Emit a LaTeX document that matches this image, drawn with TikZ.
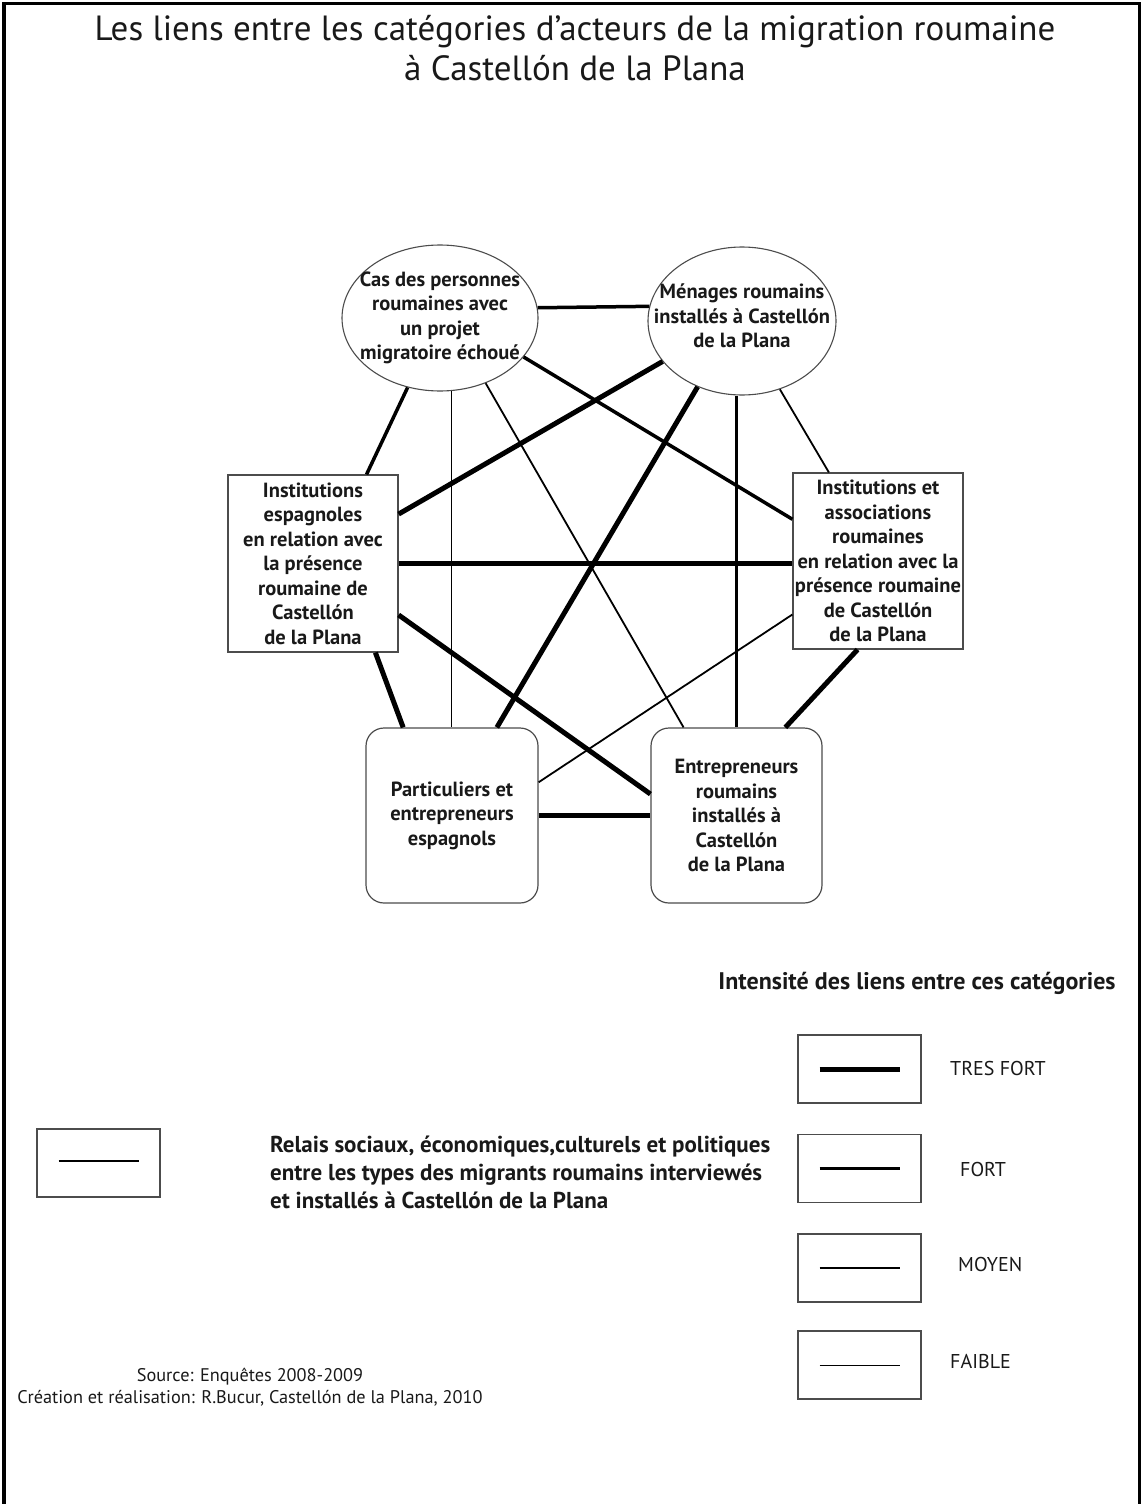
\documentclass[tikz,border=0pt]{standalone}
\usepackage{fontspec}
\setmainfont{PT Sans}
\usetikzlibrary{shapes.geometric}
\tikzset{
  cattxt/.style={font=\bfseries\fontsize{20.5}{24.5}\selectfont, align=center, inner sep=0pt, text=black!90},
  cat/.style={cattxt, draw=black!70, line width=1.2pt},
  ell/.style={ellipse, draw=black!70, line width=1.1pt, inner sep=0pt, minimum width=196pt, minimum height=146pt},
  rbox/.style={cat, rectangle, minimum width=170pt, minimum height=177pt},
  rrbox/.style={cat, rectangle, rounded corners=18pt, minimum width=172pt, minimum height=175pt},
  tresfort/.style={line width=5pt},
  fort/.style={line width=3.5pt},
  moyen/.style={line width=1.8pt},
  faible/.style={line width=0.9pt},
  legbox/.style={draw=black!70, line width=1.4pt, minimum width=123pt, minimum height=68pt, inner sep=0pt},
  leglabel/.style={anchor=west, font=\fontsize{20}{22}\selectfont, text=black!90, inner sep=0pt},
}
\begin{document}
\begin{tikzpicture}[x=1pt,y=-1pt]
\useasboundingbox (0,0) rectangle (1142,1504);
% frame
\draw[line width=4pt] (4,1504) -- (4,3.5);
\draw[line width=3.5pt] (2.2,3.5) -- (1139.5,3.5) -- (1139.5,1504);
% title
\node[align=center, font=\fontsize{35}{40}\selectfont, text=black!90, inner sep=0pt] (title) at (575,48)
  {Les liens entre les catégories d'acteurs de la migration roumaine\\à Castellón de la Plana};
% categories
\node[ell, label={[cattxt]center:{Cas des personnes\\roumaines avec\\un projet\\migratoire échoué}}] (A) at (440,318) {};
\node[ell, minimum width=188pt, minimum height=148pt, label={[cattxt, yshift=5pt]center:{Ménages roumains\\installés à Castellón\\de la Plana}}] (B) at (742,321) {};
\node[rbox] (L) at (313,563.5) {Institutions\\espagnoles\\en relation avec\\la présence\\roumaine de\\Castellón\\de la Plana};
\node[rbox, minimum height=176pt] (R) at (878,561) {Institutions et\\associations\\roumaines\\en relation avec la\\présence roumaine\\de Castellón\\de la Plana};
\node[rrbox] (P) at (452,815.5) {Particuliers et\\entrepreneurs\\espagnols};
\node[rrbox, minimum width=171pt] (E) at (736.5,815.5) {Entrepreneurs\\roumains\\installés à\\Castellón\\de la Plana};
% links
\draw[fort] (A.6) -- (B.171);
\draw[fort] (A.245) -- (L.59);
\draw[faible] (A.279) -- (A.279 |- P.north);
\draw[moyen] (A.305) -- (E.121);
\draw[fort] (A.335) -- (R.154);
\draw[tresfort] (B.207) -- (L.30);
\draw[tresfort] (B.236) -- (P.63);
\draw[fort] (B.south -| E.north) -- (E.north);
\draw[moyen] (B.299) -- (R.119);
\draw[tresfort] (L.east) -- (L.east -| R.west);
\draw[tresfort] (L.305) -- (P.119);
\draw[tresfort] (L.329) -- (E.166);
\draw[moyen] (R.212) -- (P.21);
\draw[tresfort] (R.257) -- (E.61);
\draw[tresfort] (P.east) -- (E.west);
% legend of intensities
\node[font=\bfseries\fontsize{24}{26}\selectfont, text=black!90, inner sep=0pt] (lgtitle) at (917,983) {Intensité des liens entre ces catégories};
\node[legbox] (lg1) at (859.5,1069) {};
\node[legbox] (lg2) at (859.5,1168.5) {};
\node[legbox] (lg3) at (859.5,1268) {};
\node[legbox] (lg4) at (859.5,1365) {};
\draw[tresfort] ([xshift=-40pt]lg1.center) -- ([xshift=40pt]lg1.center);
\draw[fort] ([xshift=-40pt]lg2.center) -- ([xshift=40pt]lg2.center);
\draw[moyen] ([xshift=-40pt]lg3.center) -- ([xshift=40pt]lg3.center);
\draw[faible] ([xshift=-40pt]lg4.center) -- ([xshift=40pt]lg4.center);
\node[leglabel] (t1) at (950,1068) {TRES FORT};
\node[leglabel] (t2) at (960,1169) {FORT};
\node[leglabel] (t3) at (958,1264) {MOYEN};
\node[leglabel] (t4) at (950,1361) {FAIBLE};
% relais legend
\node[legbox] (lg0) at (98.5,1163) {};
\draw[line width=1.4pt] ([xshift=-40pt,yshift=2pt]lg0.center) -- ([xshift=40pt,yshift=2pt]lg0.center);
\node[anchor=west, align=left, font=\bfseries\fontsize{23}{28}\selectfont, text=black!90, inner sep=0pt] (relais) at (270,1172)
  {Relais sociaux, économiques,culturels et politiques\\entre les types des migrants roumains interviewés\\et installés à Castellón de la Plana};
% source
\node[align=center, font=\fontsize{18.3}{22}\selectfont, text=black!90, inner sep=0pt] (src) at (250,1387)
  {Source: Enquêtes 2008-2009\\Création et réalisation: R.Bucur, Castellón de la Plana, 2010};
\end{tikzpicture}
\end{document}
